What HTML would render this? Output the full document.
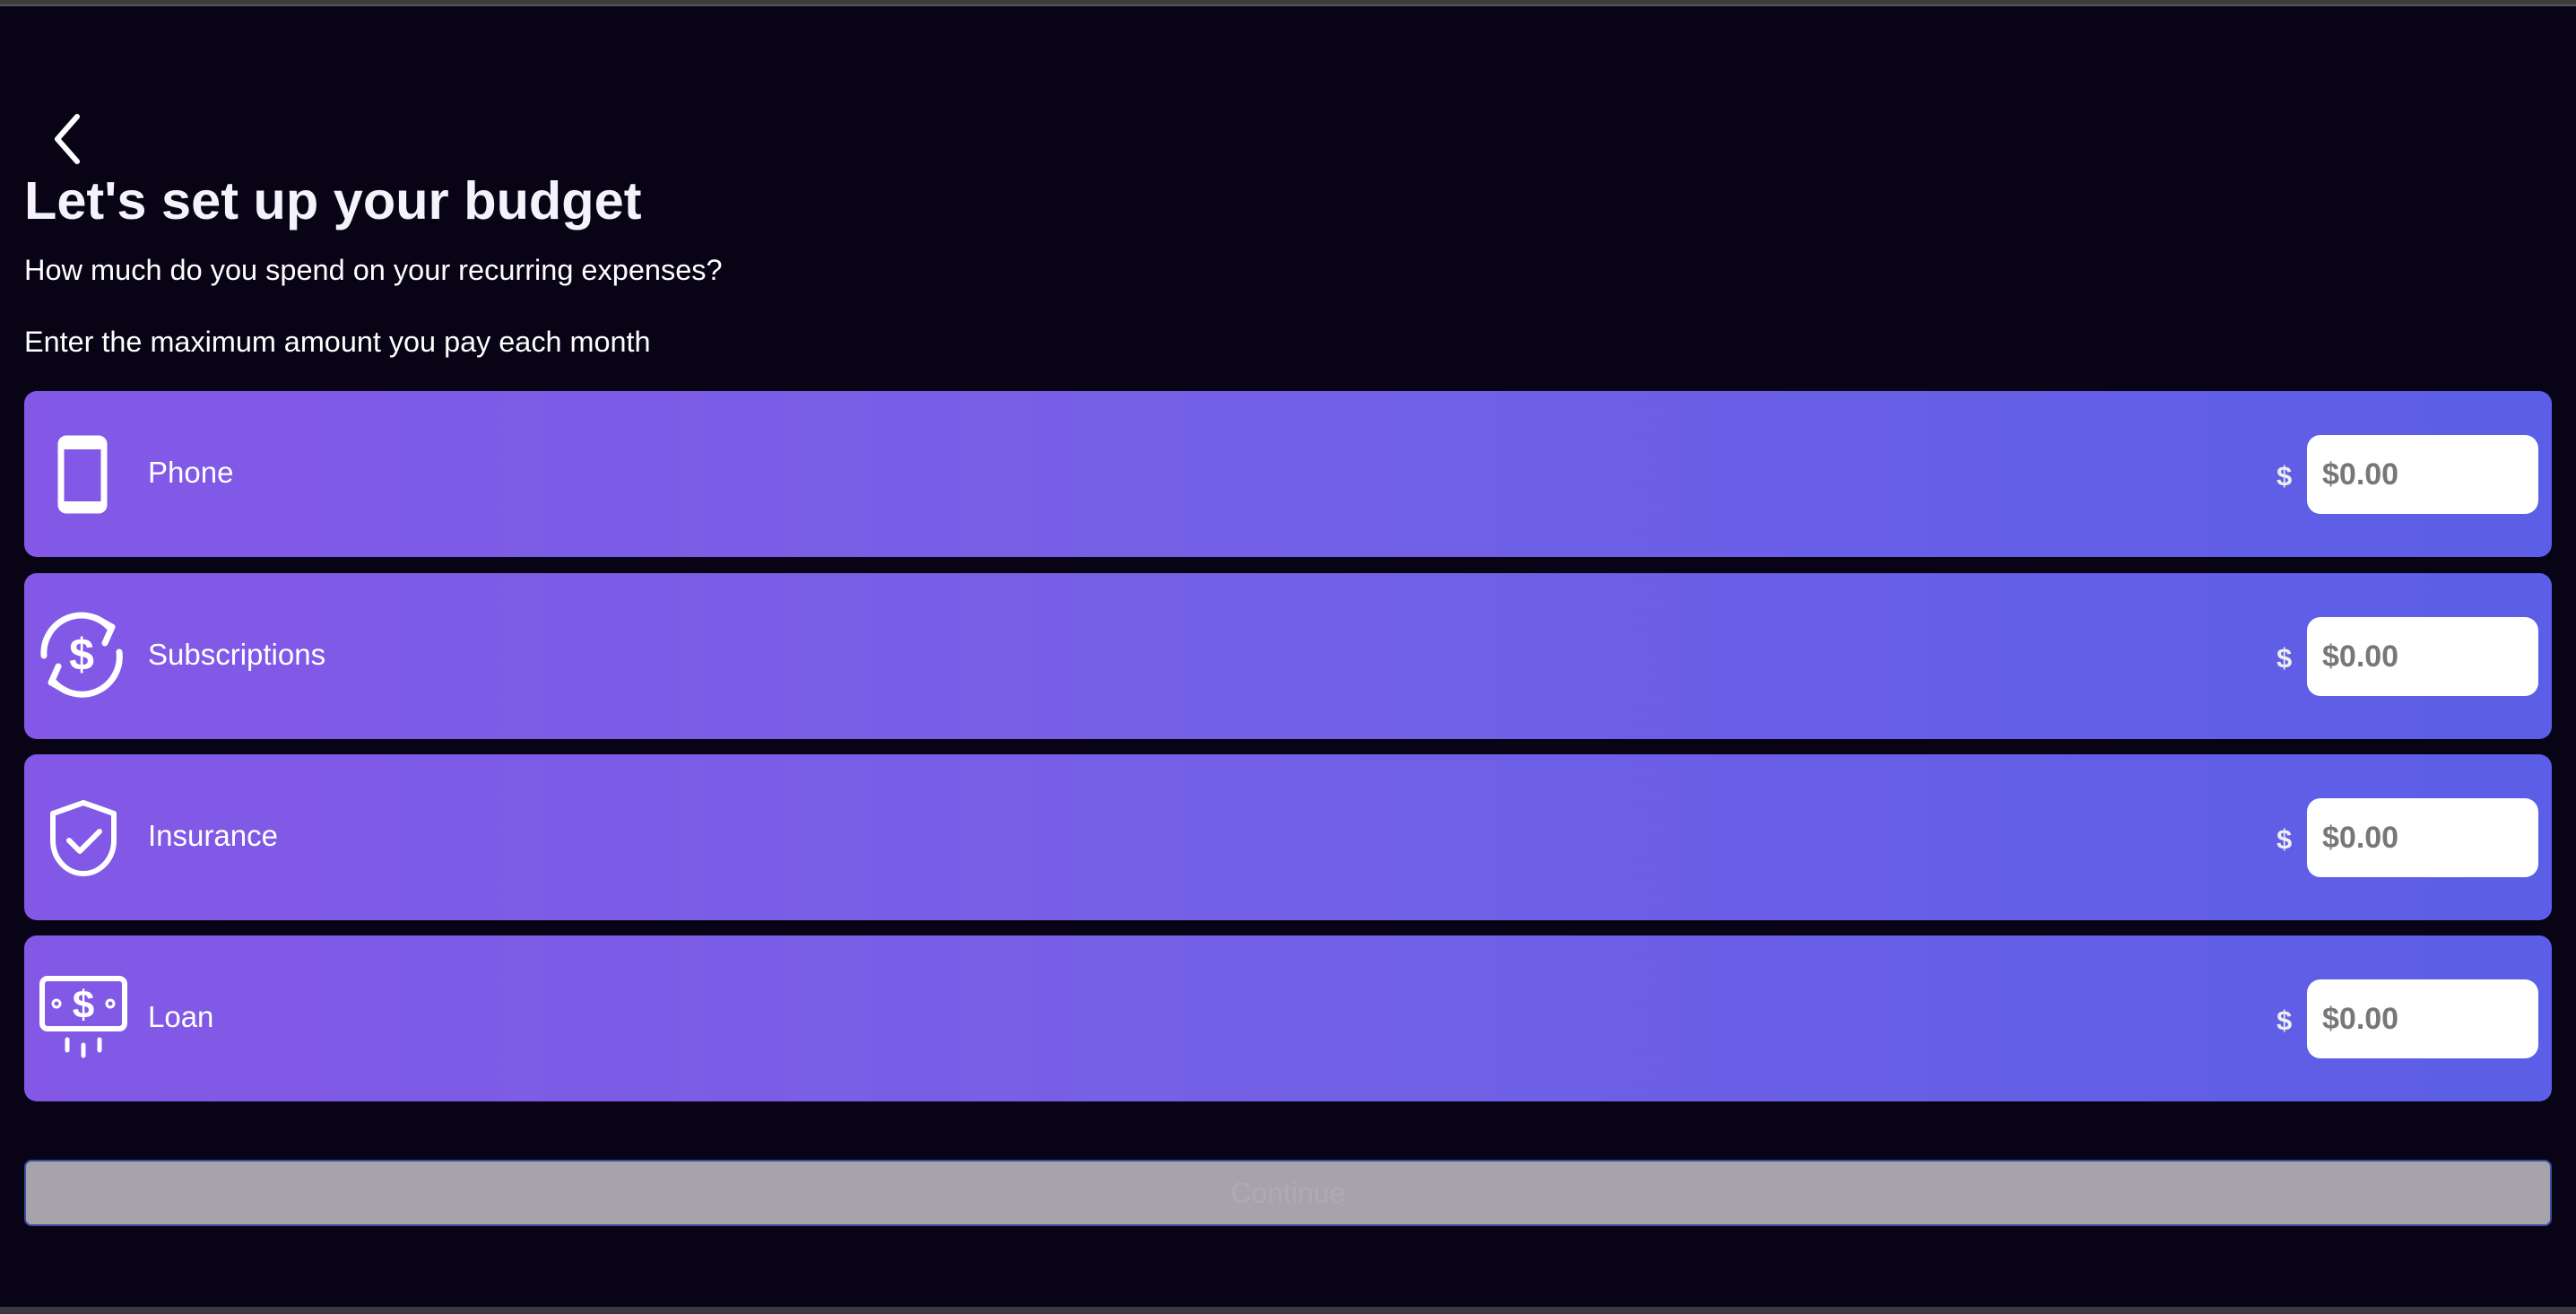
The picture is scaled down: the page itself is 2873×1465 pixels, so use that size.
<!DOCTYPE html>
<html><head><meta charset="utf-8"><style>
html,body{margin:0;padding:0;}
body{width:2873px;height:1465px;background:#090316;position:relative;overflow:hidden;font-family:"Liberation Sans",sans-serif;color:#fff;}
.abs{position:absolute;}
.card{position:absolute;left:27px;width:2819px;height:185px;border-radius:14px;background:linear-gradient(90deg,#8358e6 0%,#7560e6 45%,#5b5ee6 100%);}
.label{position:absolute;left:138px;top:-2px;line-height:185px;font-size:33px;}
.dollar{position:absolute;left:2512px;top:2px;line-height:185px;font-size:31px;font-weight:bold;color:#eee;}
.input{position:absolute;left:2546px;top:49px;width:258px;height:88px;background:#fff;border-radius:15px;box-sizing:border-box;padding-left:17px;line-height:88px;font-size:34px;font-weight:bold;color:#777;}
.icon{position:absolute;}
</style></head><body>
<div class="abs" style="left:0;top:0;width:2873px;height:5px;background:#3d3d3d"></div>
<div class="abs" style="left:0;top:5px;width:2873px;height:2px;background:#55525a"></div>

<svg class="abs" style="left:52px;top:124px" width="44" height="60" viewBox="0 0 44 60"><polyline points="34,6 12,31 34,56" fill="none" stroke="#fff" stroke-width="6" stroke-linecap="round" stroke-linejoin="round"/></svg>

<div class="abs" style="left:27px;top:184px;font-size:59.5px;font-weight:bold;line-height:80px;color:#f4f2fa">Let's set up your budget</div>
<div class="abs" style="left:27px;top:281px;font-size:32.5px;line-height:40px">How much do you spend on your recurring expenses?</div>
<div class="abs" style="left:27px;top:361px;font-size:32.4px;line-height:40px">Enter the maximum amount you pay each month</div>

<div class="card" style="top:436px">
  <svg class="icon" style="left:37px;top:49px" width="56" height="88" viewBox="0 0 56 88"><rect x="4" y="4" width="48" height="80" rx="6" fill="none" stroke="#fff" stroke-width="7"/><rect x="4" y="4" width="48" height="12" fill="#fff"/><rect x="4" y="74" width="48" height="10" fill="#fff"/></svg>
  <div class="label">Phone</div>
  <div class="dollar">$</div>
  <div class="input">$0.00</div>
</div>

<div class="card" style="top:639px">
  <svg class="icon" style="left:14px;top:40px" width="100" height="100" viewBox="0 0 100 100"><path d="M8 52 A42 42 0 0 1 82 22" fill="none" stroke="#fff" stroke-width="7" stroke-linecap="round"/><polyline points="66,10 84,20 76,38" fill="none" stroke="#fff" stroke-width="7" stroke-linecap="round" stroke-linejoin="round"/><path d="M92 48 A42 42 0 0 1 18 80" fill="none" stroke="#fff" stroke-width="7" stroke-linecap="round"/><polyline points="34,92 16,82 24,64" fill="none" stroke="#fff" stroke-width="7" stroke-linecap="round" stroke-linejoin="round"/><text x="50" y="68" text-anchor="middle" font-family="Liberation Sans, sans-serif" font-weight="bold" font-size="50" fill="#fff">$</text></svg>
  <div class="label">Subscriptions</div>
  <div class="dollar">$</div>
  <div class="input">$0.00</div>
</div>

<div class="card" style="top:841px">
  <svg class="icon" style="left:26px;top:50px" width="80" height="86" viewBox="0 0 80 86"><path d="M40 4 L74 16 L74 46 A34 37 0 0 1 6 46 L6 16 Z" fill="none" stroke="#fff" stroke-width="6" stroke-linejoin="round"/><polyline points="24,46 36,58 58,36" fill="none" stroke="#fff" stroke-width="6" stroke-linecap="round" stroke-linejoin="round"/></svg>
  <div class="label">Insurance</div>
  <div class="dollar">$</div>
  <div class="input">$0.00</div>
</div>

<div class="card" style="top:1043px">
  <svg class="icon" style="left:16px;top:44px" width="100" height="96" viewBox="0 0 100 96"><rect x="4" y="4" width="92" height="56" rx="6" fill="none" stroke="#fff" stroke-width="6"/><circle cx="20" cy="32" r="4" fill="none" stroke="#fff" stroke-width="3"/><circle cx="80" cy="32" r="4" fill="none" stroke="#fff" stroke-width="3"/><text x="50" y="48" text-anchor="middle" font-family="Liberation Sans, sans-serif" font-weight="bold" font-size="44" fill="#fff">$</text><line x1="32" y1="72" x2="32" y2="84" stroke="#fff" stroke-width="5" stroke-linecap="round"/><line x1="50" y1="78" x2="50" y2="90" stroke="#fff" stroke-width="5" stroke-linecap="round"/><line x1="68" y1="72" x2="68" y2="84" stroke="#fff" stroke-width="5" stroke-linecap="round"/></svg>
  <div class="label">Loan</div>
  <div class="dollar">$</div>
  <div class="input">$0.00</div>
</div>

<div class="abs" style="left:27px;top:1293px;width:2819px;height:74px;box-sizing:border-box;background:#a6a3aa;border:2px solid #3b4ea0;border-radius:8px;text-align:center;line-height:70px;font-size:32px;color:#aeabb2">Continue</div>

<div class="abs" style="left:0;top:1457px;width:2873px;height:8px;background:#3a3840"></div>
</body></html>
